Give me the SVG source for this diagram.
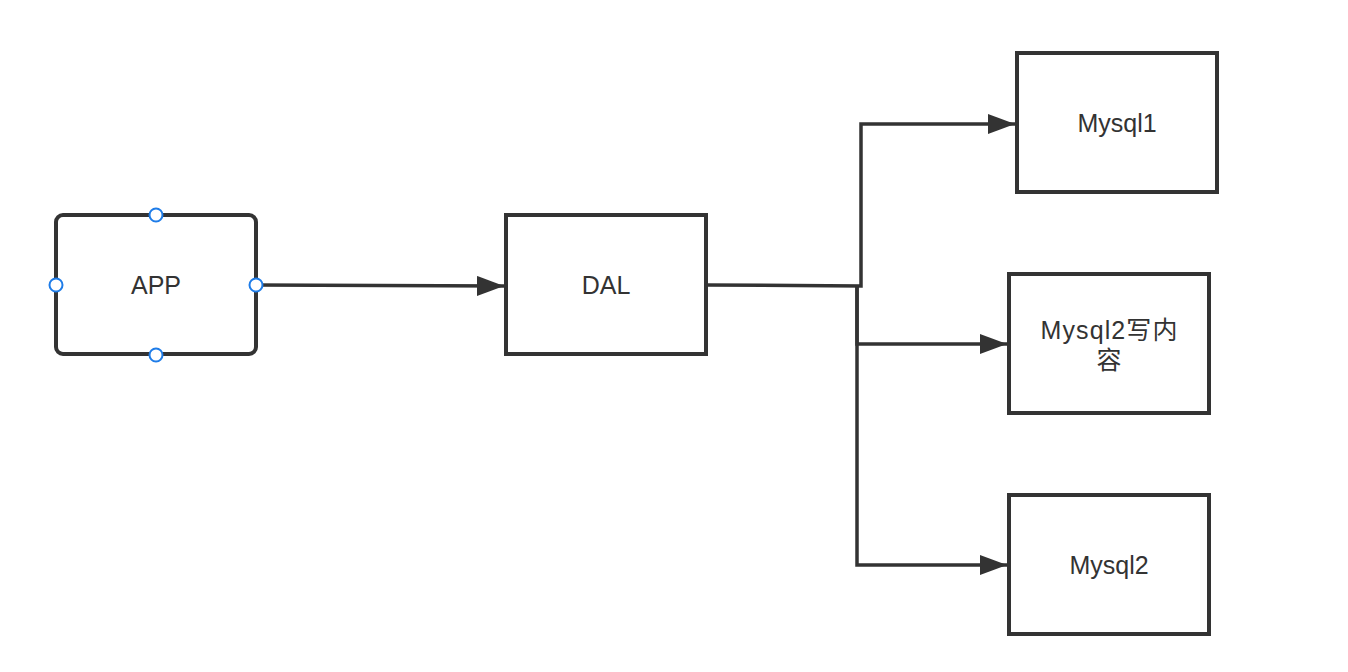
<svg xmlns="http://www.w3.org/2000/svg" width="1348" height="672" viewBox="0 0 1348 672">
<style>
.box{fill:#fff;stroke:#333;stroke-width:4}
.lbl{font-family:"Liberation Sans","Noto Sans CJK SC",sans-serif;font-size:25px;fill:#333;text-anchor:middle}
.conn{fill:none;stroke:#333;stroke-width:3.5}
.h{fill:#fff;stroke:#1e7ce8;stroke-width:2}
</style>
<defs>
<marker id="arr" markerUnits="userSpaceOnUse" markerWidth="30" markerHeight="22" refX="27" refY="10" orient="auto" viewBox="0 0 30 22">
<path d="M0,0 L27,10 L0,20 Z" fill="#333"/>
</marker>
</defs>
<rect width="1348" height="672" fill="#fff"/>
<g id="connectors">
<path class="conn" d="M256,285 L504,286" marker-end="url(#arr)"/>
<path class="conn" d="M706,285 L861,286 L861,124 L1015,124" marker-end="url(#arr)"/>
<path class="conn" d="M857,286 L857,344 L1007,344" marker-end="url(#arr)"/>
<path class="conn" d="M857,286 L857,565 L1007,565" marker-end="url(#arr)"/>
</g>
<g id="app">
<rect class="box" x="56" y="215" width="200" height="139" rx="7"/>
<text class="lbl" x="156" y="294">APP</text>
<circle class="h" cx="156" cy="215" r="6.5"/>
<circle class="h" cx="56" cy="285" r="6.5"/>
<circle class="h" cx="256" cy="285" r="6.5"/>
<circle class="h" cx="156" cy="355" r="6.5"/>
</g>
<g id="dal">
<rect class="box" x="506" y="215" width="200" height="139"/>
<text class="lbl" x="606" y="294">DAL</text>
</g>
<g id="mysql1">
<rect class="box" x="1017" y="53" width="200" height="139"/>
<text class="lbl" x="1117" y="132">Mysql1</text>
</g>
<g id="mysql2w">
<rect class="box" x="1009" y="274" width="200" height="139"/>
<text class="lbl" x="1109" y="339" textLength="137">Mysql2写内</text>
<text class="lbl" x="1109" y="369">容</text>
</g>
<g id="mysql2">
<rect class="box" x="1009" y="495" width="200" height="139"/>
<text class="lbl" x="1109" y="574">Mysql2</text>
</g>
</svg>
